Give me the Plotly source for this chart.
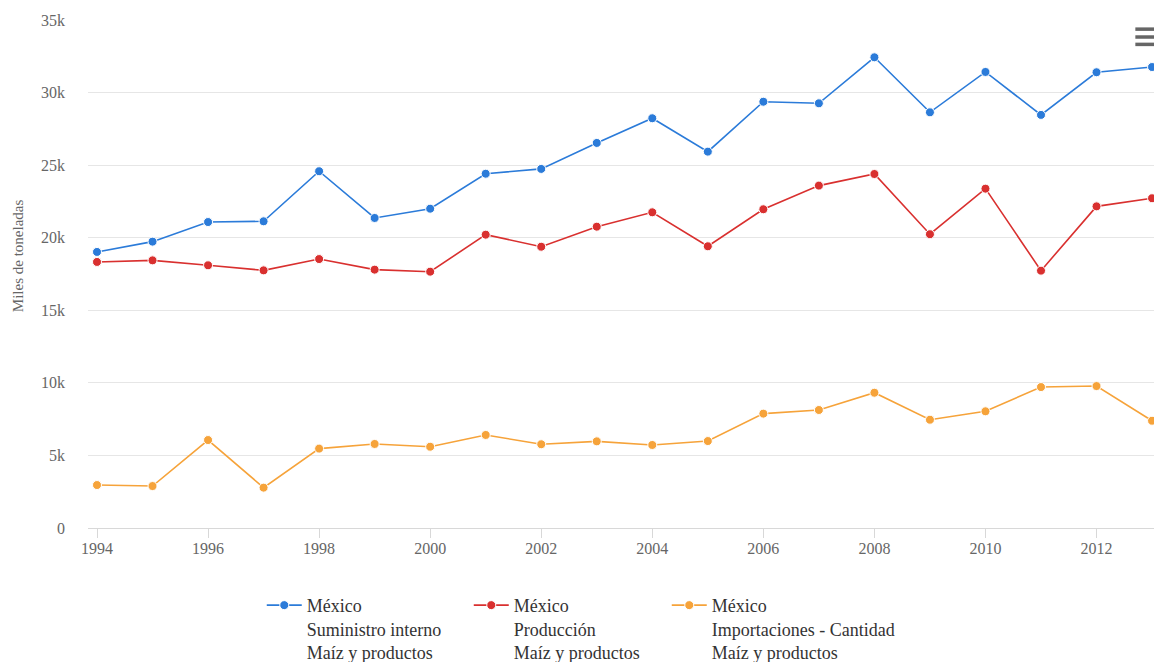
import plotly.graph_objects as go

# Años de la serie
years = list(range(1994, 2014))

# Miles de toneladas
suministro = [19.02, 19.73, 21.08, 21.13, 24.58, 21.36, 22.00, 24.41, 24.74, 26.53,
              28.23, 25.93, 29.37, 29.26, 32.43, 28.64, 31.42, 28.46, 31.40, 31.76]
produccion = [18.33, 18.44, 18.10, 17.75, 18.53, 17.80, 17.66, 20.21, 19.38, 20.76,
              21.75, 19.41, 21.96, 23.59, 24.39, 20.24, 23.38, 17.73, 22.16, 22.72]
importaciones = [2.96, 2.89, 6.06, 2.78, 5.47, 5.79, 5.60, 6.41, 5.77, 5.97,
                 5.72, 5.99, 7.88, 8.13, 9.32, 7.46, 8.04, 9.71, 9.78, 7.39]

series_names = [
    "México<br>Suministro interno<br>Maíz y productos",
    "México<br>Producción<br>Maíz y productos",
    "México<br>Importaciones - Cantidad<br>Maíz y productos",
]
series_values = [suministro, produccion, importaciones]
series_colors = ["#2b7bd9", "#d9302f", "#f6a33a"]
legend_widths = [157, 148, 200]

y_ticks = [0, 5000, 10000, 15000, 20000, 25000, 30000, 35000]
y_tick_text = ["0", "5k", "10k", "15k", "20k", "25k", "30k", "35k"]
x_ticks = list(range(1994, 2013, 2))
y_title = "Miles de toneladas"

SERIF = "Liberation Serif"

fig = go.Figure()
for name, vals, color, lw in zip(series_names, series_values, series_colors, legend_widths):
    fig.add_trace(go.Scatter(
        x=years,
        y=[v * 1000 for v in vals],
        name=name,
        mode="lines+markers",
        line=dict(color=color, width=1.6),
        marker=dict(size=9, color=color, line=dict(color="white", width=1)),
        legendwidth=lw,
    ))

fig.update_layout(
    width=1154,
    height=662,
    margin=dict(l=88, r=0, t=20, b=134, autoexpand=False),
    paper_bgcolor="white",
    plot_bgcolor="white",
    font=dict(family=SERIF, color="#666666"),
    showlegend=True,
    legend=dict(
        orientation="h",
        x=0.163,
        xanchor="left",
        y=-0.116,
        yanchor="top",
        font=dict(family=SERIF, size=18, color="#333333"),
        itemwidth=35,
        itemclick=False,
        traceorder="normal",
        valign="top",
    ),
    xaxis=dict(
        range=[1993.838, 2013.035],
        tickmode="array",
        tickvals=x_ticks,
        ticktext=[str(t) for t in x_ticks],
        showgrid=False,
        zeroline=False,
        showline=True,
        linecolor="#d8d8d8",
        linewidth=1,
        ticks="outside",
        ticklen=9,
        tickcolor="#d8d8d8",
        ticklabelstandoff=-3,
        tickfont=dict(family=SERIF, size=16, color="#666666"),
    ),
    yaxis=dict(
        range=[0, 35000],
        tickmode="array",
        tickvals=y_ticks,
        ticktext=y_tick_text,
        showgrid=True,
        gridcolor="#e6e6e6",
        gridwidth=1,
        zeroline=False,
        showline=False,
        ticklabelstandoff=22,
        tickfont=dict(family=SERIF, size=16, color="#666666"),
    ),
)

# Título del eje vertical
fig.add_annotation(
    text=y_title, textangle=-90, showarrow=False,
    xref="paper", yref="paper", x=-0.0657, y=0.537,
    xanchor="center", yanchor="middle",
    font=dict(family=SERIF, size=15, color="#666666"),
)

# Icono del menú de exportación (tres barras)
for py in (0.982, 0.9665, 0.952):
    fig.add_shape(type="line", xref="paper", yref="paper",
                  x0=0.9825, x1=1.01, y0=py, y1=py,
                  line=dict(color="#666666", width=3.5))

fig.write_html("out.html")
